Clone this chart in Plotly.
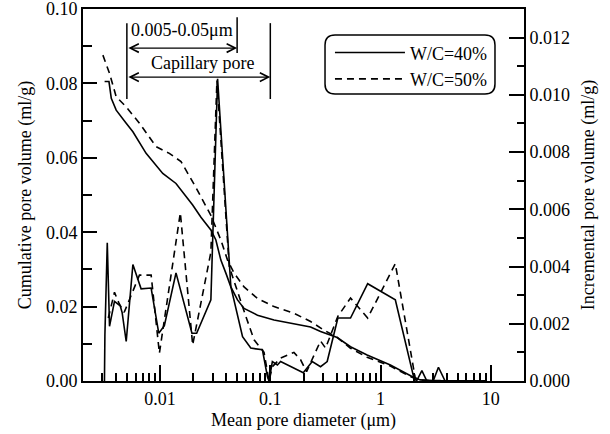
import math
import plotly.graph_objects as go

# ---------------- data ----------------
# Cumulative pore volume (ml/g) vs mean pore diameter (um) -- left axis
cum40_d = [0.00314, 0.00344, 0.00361, 0.0040, 0.00493, 0.00567, 0.00747, 0.01058, 0.01395,
           0.01976, 0.02349, 0.0289, 0.03208, 0.0356, 0.03953, 0.04385, 0.05041, 0.0578,
           0.07645, 0.108, 0.2319, 0.2855, 0.4043, 0.5336, 0.755, 1.227, 1.927, 2.29, 3.0,
           5.0, 9.2]
cum40_v = [0.0805, 0.0805, 0.0760, 0.0728, 0.0693, 0.0670, 0.0612, 0.0558, 0.0531,
           0.0473, 0.0440, 0.0406, 0.0379, 0.0325, 0.0290, 0.0253, 0.0218, 0.0195,
           0.0177, 0.0164, 0.0145, 0.0133, 0.0117, 0.0092, 0.0070, 0.0043, 0.0012, 0.0003, 0.0001,
           0.0, 0.0]

cum50_d = [0.00303, 0.00348, 0.0040, 0.00493, 0.0065, 0.0092, 0.01214, 0.01549, 0.02116,
           0.0289, 0.0356, 0.04094, 0.04698, 0.0578, 0.07645, 0.108, 0.1638, 0.2319,
           0.3059, 0.4043, 0.5336, 0.755, 1.227, 1.927, 2.29, 3.0, 5.0, 9.2]
cum50_v = [0.0876, 0.0827, 0.0764, 0.0737, 0.0693, 0.0630, 0.0612, 0.0590, 0.0520,
           0.0445, 0.0379, 0.0325, 0.0290, 0.0253, 0.0222, 0.0200, 0.0182, 0.0160,
           0.0137, 0.0117, 0.0088, 0.0064, 0.0040, 0.0010, 0.0002, 0.0001, 0.0, 0.0]

# Incremental pore volume (ml/g) -- right axis
inc40_d = [0.00313, 0.00316, 0.00332, 0.00348, 0.00386, 0.00435, 0.00453, 0.00493, 0.00567,
           0.00673, 0.0083, 0.00973, 0.01094, 0.01395, 0.01946, 0.02147, 0.0289, 0.03325,
           0.04385, 0.056, 0.06648, 0.0848, 0.0942, 0.0973, 0.1044, 0.116, 0.124, 0.153,
           0.199, 0.240, 0.2855, 0.328, 0.41, 0.534, 0.764, 1.361, 1.992, 2.12, 2.37, 2.63,
           3.0, 3.35, 3.85, 9.2]
inc40_v = [0.0, 0.0016, 0.00483, 0.00191, 0.00278, 0.00263, 0.00239, 0.00138, 0.00407,
           0.00322, 0.00325, 0.00167, 0.00193, 0.00378, 0.00167, 0.00167, 0.00284, 0.01056,
           0.0033, 0.00155, 0.00115, 0.00109, 0.00015, 0.0, 0.00068, 0.00056, 0.00068, 0.0005,
           0.00029, 0.00068, 0.0005, 0.00068, 0.0022, 0.0022, 0.0034, 0.00284, 0.00015, 0.0,
           0.00036, 0.0, 0.0, 0.00048, 0.0, 0.0]

inc50_d = [0.00339, 0.00386, 0.00426, 0.00473, 0.0065, 0.0083, 0.00986, 0.01527, 0.01976,
           0.0289, 0.0328, 0.0424, 0.05994, 0.07123, 0.0877, 0.0973, 0.1044, 0.124, 0.1638,
           0.1883, 0.2133, 0.2855, 0.317, 0.41, 0.534, 0.764, 1.361, 2.064, 2.5, 9.2]
inc50_v = [0.0022, 0.0031, 0.0027, 0.0024, 0.0037, 0.0037, 0.00097, 0.00588, 0.00126,
           0.0045, 0.0105, 0.0040, 0.00226, 0.00144, 0.0010, 0.0, 0.0005, 0.0008, 0.0010,
           0.00074, 0.00033, 0.0014, 0.00115, 0.00226, 0.0029, 0.0022, 0.0041, 0.0001, 0.0, 0.0]

series_names = ["W/C=40%", "W/C=50%"]
x_tick_vals = [0.01, 0.1, 1, 10]
x_tick_text = ["0.01", "0.1", "1", "10"]
x_minor_vals = [m * 10.0 ** e for e in range(-3, 2) for m in range(2, 10)]
y_tick_vals = [0.0, 0.02, 0.04, 0.06, 0.08, 0.10]
y_tick_text = ["0.00", "0.02", "0.04", "0.06", "0.08", "0.10"]
y2_tick_vals = [0.0, 0.002, 0.004, 0.006, 0.008, 0.010, 0.012]
y2_tick_text = ["0.000", "0.002", "0.004", "0.006", "0.008", "0.010", "0.012"]

# ---------------- styling ----------------
FONT = "Liberation Serif, Times New Roman, serif"
FS = 18
LW = 1.6
DASH = "7px,5px"

fig = go.Figure()
fig.add_trace(go.Scatter(x=cum40_d, y=cum40_v, mode="lines", name=series_names[0],
                         legendgroup="a", line=dict(color="black", width=LW)))
fig.add_trace(go.Scatter(x=cum50_d, y=cum50_v, mode="lines", name=series_names[1],
                         legendgroup="b", line=dict(color="black", width=LW, dash=DASH)))
fig.add_trace(go.Scatter(x=inc40_d, y=inc40_v, mode="lines", name=series_names[0],
                         legendgroup="a", showlegend=False, yaxis="y2",
                         line=dict(color="black", width=LW)))
fig.add_trace(go.Scatter(x=inc50_d, y=inc50_v, mode="lines", name=series_names[1],
                         legendgroup="b", showlegend=False, yaxis="y2",
                         line=dict(color="black", width=LW, dash=DASH)))

axis_common = dict(showgrid=False, zeroline=False, showline=True, linecolor="black",
                   linewidth=2, ticks="inside", tickcolor="black", tickwidth=1.5,
                   automargin=False, ticklabeloverflow="allow",
                   tickfont=dict(family=FONT, size=FS, color="black"))

fig.update_layout(
    width=610, height=434,
    margin=dict(l=83, r=86, t=9, b=53),
    paper_bgcolor="white", plot_bgcolor="white",
    font=dict(family=FONT, size=FS, color="black"),
    xaxis=dict(type="log", range=[math.log10(0.002), math.log10(20)],
               tickmode="array", tickvals=x_tick_vals, ticktext=x_tick_text,
               ticklen=16, mirror=True,
               minor=dict(tickmode="array", tickvals=x_minor_vals, ticks="inside",
                          ticklen=8, tickcolor="black", tickwidth=1.5, showgrid=False),
               title=dict(text="Mean pore diameter (μm)", font=dict(family=FONT, size=FS),
                          standoff=6),
               **axis_common),
    yaxis=dict(range=[0, 0.1], tickmode="array", tickvals=y_tick_vals, ticktext=y_tick_text,
               ticklen=14,
               minor=dict(dtick=0.01, ticks="inside", ticklen=9, tickcolor="black",
                          tickwidth=1.5, showgrid=False),
               title=dict(text="Cumulative pore volume (ml/g)",
                          font=dict(family=FONT, size=FS), standoff=10),
               **axis_common),
    yaxis2=dict(overlaying="y", side="right", range=[0, 0.013], tickmode="array",
                tickvals=y2_tick_vals, ticktext=y2_tick_text, ticklen=15,
                minor=dict(dtick=0.001, ticks="inside", ticklen=7, tickcolor="black",
                           tickwidth=1.5, showgrid=False),
                title=dict(text="Incremental pore volume (ml/g)",
                           font=dict(family=FONT, size=FS), standoff=12),
                **axis_common),
    legend=dict(x=0.56, y=0.932, xanchor="left", yanchor="top", bgcolor="rgba(0,0,0,0)",
                borderwidth=0, itemwidth=70, tracegroupgap=0,
                font=dict(family=FONT, size=FS, color="black")),
    showlegend=True,
)

# rounded legend frame (paper coordinates)
x0, x1, y0, y1 = 0.5488, 0.9342, 0.7715, 0.9301
rx, ry = 0.0227, 0.0269
path = (f"M {x0+rx},{y0} L {x1-rx},{y0} Q {x1},{y0} {x1},{y0+ry} "
        f"L {x1},{y1-ry} Q {x1},{y1} {x1-rx},{y1} L {x0+rx},{y1} "
        f"Q {x0},{y1} {x0},{y1-ry} L {x0},{y0+ry} Q {x0},{y0} {x0+rx},{y0} Z")
fig.add_shape(type="path", path=path, xref="paper", yref="paper",
              line=dict(color="black", width=1.5), fillcolor="rgba(0,0,0,0)")

# pore-range brackets
for xv, ya, yb in [(0.005, 0.0758, 0.0962), (0.05, 0.0882, 0.0978), (0.1, 0.0758, 0.0962)]:
    fig.add_shape(type="line", xref="x", yref="y", x0=xv, x1=xv, y0=ya, y1=yb,
                  line=dict(color="black", width=1.5))

for xa, xb, yv in [(0.005, 0.05, 0.0895), (0.005, 0.1, 0.0817)]:
    fig.add_annotation(x=math.log10(xb), y=yv, ax=math.log10(xa), ay=yv,
                       xref="x", yref="y", axref="x", ayref="y", text="",
                       showarrow=True, arrowside="end+start", arrowhead=5,
                       startarrowhead=5, arrowsize=1.3, startarrowsize=1.3,
                       arrowwidth=1.3, arrowcolor="black", standoff=0, startstandoff=0)

fig.add_annotation(x=math.log10(0.0052), y=0.0944, xref="x", yref="y", text="0.005-0.05μm",
                   showarrow=False, xanchor="left", yanchor="middle",
                   font=dict(family=FONT, size=FS, color="black"))
fig.add_annotation(x=math.log10(0.0245), y=0.0855, xref="x", yref="y", text="Capillary pore",
                   showarrow=False, xanchor="center", yanchor="middle",
                   font=dict(family=FONT, size=FS, color="black"))

fig.write_html("out.html", config={"displayModeBar": False},
               post_script="document.body.style.margin='0px';")
